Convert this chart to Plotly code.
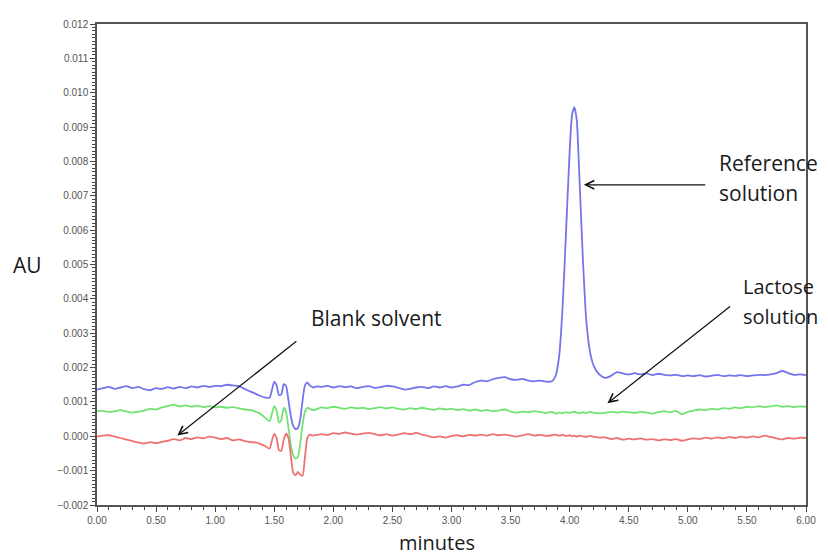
import plotly.graph_objects as go

# Retention time (minutes)
time_min = [
    0.00, 0.05, 0.10, 0.15, 0.20, 0.25, 0.30, 0.35, 0.40, 0.45, 0.50, 0.55, 0.60, 0.65,
    0.70, 0.75, 0.80, 0.85, 0.90, 0.95, 1.00, 1.05, 1.10, 1.15, 1.20, 1.25, 1.30,
    1.34, 1.38, 1.42, 1.46, 1.48, 1.50, 1.52, 1.54, 1.56, 1.58, 1.60, 1.62, 1.64, 1.66,
    1.68, 1.70, 1.72, 1.74, 1.76, 1.78, 1.80, 1.83, 1.86,
    1.90, 1.95, 2.00, 2.05, 2.10, 2.15, 2.20, 2.25, 2.30, 2.35, 2.40, 2.45, 2.50, 2.55,
    2.60, 2.65, 2.70, 2.75, 2.80, 2.85, 2.90, 2.95, 3.00, 3.05, 3.10, 3.15, 3.20, 3.25,
    3.30, 3.35, 3.40, 3.45, 3.50, 3.55, 3.60, 3.65, 3.70, 3.75, 3.80, 3.85,
    3.88, 3.91, 3.94, 3.97, 4.00, 4.02, 4.04, 4.06, 4.08, 4.11, 4.14, 4.17, 4.20, 4.25,
    4.30, 4.35, 4.40, 4.45, 4.50, 4.55, 4.60, 4.65, 4.70, 4.75, 4.80, 4.85, 4.90, 4.95,
    5.00, 5.05, 5.10, 5.15, 5.20, 5.25, 5.30, 5.35, 5.40, 5.45, 5.50, 5.55, 5.60, 5.65,
    5.70, 5.75, 5.80, 5.85, 5.90, 5.95, 6.00,
]

# Reference solution (AU)
reference_au = [
    0.00136, 0.00140, 0.00144, 0.00138, 0.00142, 0.00146, 0.00140, 0.00144, 0.00137, 0.00134,
    0.00140, 0.00138, 0.00143, 0.00139, 0.00144, 0.00140, 0.00145, 0.00142, 0.00147, 0.00144,
    0.00147, 0.00146, 0.00150, 0.00148, 0.00146, 0.00138, 0.00130,
    0.00124, 0.00118, 0.00113, 0.00112, 0.00135, 0.00158, 0.00148, 0.00120, 0.00122, 0.00152,
    0.00146, 0.00105, 0.00060, 0.00030, 0.00021, 0.00024, 0.00050, 0.00105, 0.00148, 0.00157,
    0.00148, 0.00142, 0.00145,
    0.00144, 0.00147, 0.00142, 0.00146, 0.00143, 0.00145, 0.00140, 0.00144, 0.00146, 0.00141,
    0.00143, 0.00147, 0.00145, 0.00141, 0.00136, 0.00138, 0.00142, 0.00144, 0.00140, 0.00145,
    0.00142, 0.00146, 0.00142, 0.00145, 0.00150, 0.00149, 0.00158, 0.00162, 0.00160, 0.00166,
    0.00170, 0.00172, 0.00166, 0.00164, 0.00167, 0.00162, 0.00160, 0.00162, 0.00159, 0.00160,
    0.00175, 0.00230, 0.00375, 0.00600, 0.00830, 0.00935, 0.00958, 0.00920, 0.00775, 0.00530,
    0.00340, 0.00250, 0.00208, 0.00180,
    0.00170, 0.00176, 0.00187, 0.00183, 0.00180, 0.00184, 0.00180, 0.00183, 0.00178, 0.00182,
    0.00179, 0.00177, 0.00179, 0.00175, 0.00177, 0.00175, 0.00178, 0.00174, 0.00176, 0.00179,
    0.00175, 0.00177, 0.00176, 0.00178, 0.00175, 0.00177, 0.00179, 0.00178, 0.00180, 0.00184,
    0.00190, 0.00184, 0.00179, 0.00180, 0.00178,
]

# Lactose solution (AU)
lactose_au = [
    0.00073, 0.00074, 0.00071, 0.00073, 0.00076, 0.00072, 0.00069, 0.00072, 0.00075, 0.00080,
    0.00078, 0.00084, 0.00088, 0.00092, 0.00087, 0.00090, 0.00086, 0.00089, 0.00085, 0.00088,
    0.00084, 0.00086, 0.00083, 0.00085, 0.00081, 0.00078, 0.00076,
    0.00072, 0.00066, 0.00055, 0.00044, 0.00066, 0.00087, 0.00075, 0.00040, 0.00048, 0.00083,
    0.00070, 0.00025, -0.00025, -0.00055, -0.00065, -0.00060, -0.00020, 0.00035, 0.00072, 0.00083,
    0.00080, 0.00076, 0.00079,
    0.00084, 0.00082, 0.00086, 0.00083, 0.00080, 0.00084, 0.00081, 0.00083, 0.00079, 0.00082,
    0.00085, 0.00081, 0.00084, 0.00080, 0.00078, 0.00082, 0.00079, 0.00083, 0.00080, 0.00077,
    0.00081, 0.00078, 0.00080, 0.00076, 0.00079, 0.00075, 0.00078, 0.00074, 0.00077, 0.00073,
    0.00075, 0.00078, 0.00072, 0.00069, 0.00072, 0.00070, 0.00073, 0.00071, 0.00068, 0.00071,
    0.00066, 0.00069, 0.00067, 0.00070, 0.00068, 0.00070, 0.00072, 0.00069, 0.00067, 0.00070,
    0.00068, 0.00071, 0.00069, 0.00067,
    0.00068, 0.00071, 0.00069, 0.00072, 0.00070, 0.00068, 0.00071, 0.00069, 0.00066, 0.00070,
    0.00073, 0.00070, 0.00074, 0.00064, 0.00071, 0.00075, 0.00078, 0.00076, 0.00080, 0.00078,
    0.00082, 0.00080, 0.00084, 0.00082, 0.00086, 0.00084, 0.00088, 0.00085, 0.00087, 0.00090,
    0.00086, 0.00088, 0.00085, 0.00087, 0.00086,
]

# Blank solvent (AU)
blank_au = [
    -0.00001, 0.00002, 0.00003, -0.00001, -0.00005, -0.00010, -0.00014, -0.00018, -0.00021, -0.00017,
    -0.00020, -0.00016, -0.00013, -0.00008, -0.00012, -0.00005, -0.00008, -0.00003, -0.00006, -0.00001,
    -0.00004, -0.00008, -0.00005, -0.00012, -0.00009, -0.00014, -0.00017,
    -0.00018, -0.00022, -0.00028, -0.00036, -0.00012, 0.00007, -0.00005, -0.00040, -0.00042, -0.00010,
    0.00008, -0.00005, -0.00055, -0.00105, -0.00114, -0.00104, -0.00112, -0.00115, -0.00060, -0.00005,
    0.00005, 0.00002, 0.00004,
    0.00006, 0.00004, 0.00009, 0.00007, 0.00011, 0.00008, 0.00005, 0.00008, 0.00010, 0.00006,
    0.00003, 0.00006, 0.00002, 0.00005, 0.00009, 0.00006, 0.00010, 0.00005, 0.00001, -0.00003,
    0.00000, -0.00004, 0.00001, 0.00003, 0.00000, 0.00004, 0.00002, 0.00005, 0.00002, 0.00006,
    0.00003, 0.00005, 0.00002, -0.00001, 0.00003, 0.00006, 0.00002, 0.00004, 0.00001, 0.00003,
    0.00005, 0.00002, 0.00004, 0.00001, 0.00003, 0.00000, 0.00002, -0.00001, 0.00002, 0.00000,
    -0.00002, 0.00001, -0.00001, -0.00004,
    -0.00003, -0.00008, -0.00005, -0.00010, -0.00007, -0.00009, -0.00006, -0.00010, -0.00008, -0.00012,
    -0.00009, -0.00011, -0.00008, -0.00013, -0.00009, -0.00006, -0.00008, -0.00004, -0.00007, -0.00003,
    -0.00006, -0.00002, -0.00005, -0.00001, -0.00004, 0.00000, -0.00003, 0.00002, -0.00002, -0.00006,
    -0.00009, -0.00005, -0.00007, -0.00004, -0.00005,
]

series_names = ["Reference solution", "Lactose solution", "Blank solvent"]
series_colors = ["#7474ec", "#72e272", "#ee7272"]

fig = go.Figure()
for name, vals, col in zip(series_names, [reference_au, lactose_au, blank_au], series_colors):
    fig.add_trace(go.Scatter(x=time_min, y=vals, mode="lines", name=name,
                             line=dict(color=col, width=1.8, shape="spline", smoothing=0.6)))

text_font = dict(family="Open Sans, sans-serif", size=21, color="#1a1a1a")
side_font = dict(family="Open Sans, sans-serif", size=20, color="#1a1a1a")
arrow_kw = dict(showarrow=True, arrowhead=5, arrowsize=1.4, arrowwidth=1.2, arrowcolor="#111",
                axref="x", ayref="y", text="")

# arrows (head at x,y ; tail at ax,ay)
fig.add_annotation(x=4.12, y=0.00732, ax=5.16, ay=0.00732, **arrow_kw)
fig.add_annotation(x=4.32, y=0.00096, ax=5.37, ay=0.00381, **arrow_kw)
fig.add_annotation(x=0.68, y=0.00002, ax=1.70, ay=0.00280, **arrow_kw)

labels = [
    ("Reference", 5.25, 0.00796, text_font),
    ("solution", 5.25, 0.00708, text_font),
    ("Lactose", 5.45, 0.00437, side_font),
    ("solution", 5.45, 0.00350, side_font),
    ("Blank solvent", 1.79, 0.00345, text_font),
]
for txt, lx, ly, fnt in labels:
    fig.add_annotation(x=lx, y=ly, text=txt, showarrow=False, xanchor="left",
                       yanchor="middle", font=fnt)

fig.add_annotation(x=-0.075, y=0.499, xref="paper", yref="paper", text="AU", showarrow=False,
                   xanchor="right", yanchor="middle", font=text_font)
fig.add_annotation(x=0.48, y=-0.077, xref="paper", yref="paper", text="minutes", showarrow=False,
                   xanchor="center", yanchor="middle", font=side_font)

axis_common = dict(showline=True, linecolor="#555", linewidth=1.5, mirror=True,
                   ticks="outside", ticklen=5, tickwidth=1, tickcolor="#444",
                   showgrid=False, zeroline=False,
                   tickfont=dict(family="Liberation Sans, Arial, sans-serif", size=10, color="#555"))

fig.update_xaxes(range=[0, 6], dtick=0.5, tick0=0, tickformat=".2f",
                 minor=dict(dtick=0.1, ticks="outside", ticklen=3, tickcolor="#444"),
                 **axis_common)
fig.update_yaxes(range=[-0.002, 0.012], dtick=0.001, tick0=0, tickformat=".3f",
                 minor=dict(dtick=0.0001, ticks="outside", ticklen=3, tickcolor="#444"),
                 **axis_common)

fig.update_layout(width=820, height=547, margin=dict(l=89, r=22, t=10, b=50),
                  plot_bgcolor="white", paper_bgcolor="white", showlegend=False)

fig.write_html("out.html")
